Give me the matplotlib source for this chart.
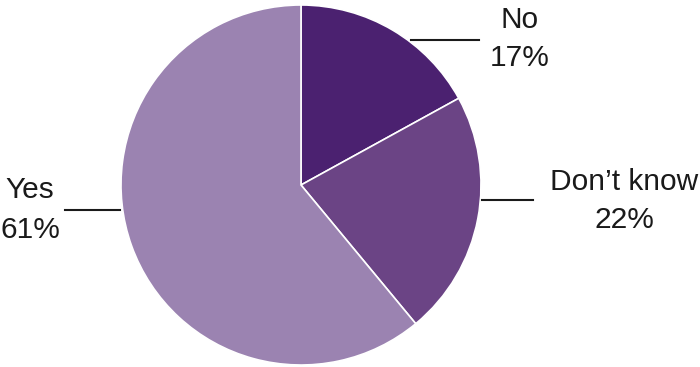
import matplotlib
matplotlib.use('Agg')
import matplotlib.pyplot as plt

# Dados do gráfico
labels = ['No', "Don\u2019t know", 'Yes']
values = [17, 22, 61]
colors = ['#4b2170', '#6b4485', '#9b83b1']

plt.rcParams['font.family'] = ['Liberation Sans', 'DejaVu Sans']

fig = plt.figure(figsize=(7, 3.67), dpi=100)
ax = fig.add_axes([0, 0, 1, 1])

ax.pie(values, colors=colors, startangle=90, counterclock=False,
       center=(301, 182), radius=180, frame=True,
       wedgeprops=dict(edgecolor='white', linewidth=1.2))
ax.set_xlim(0, 700)
ax.set_ylim(0, 367)
ax.set_aspect('equal')
ax.axis('off')

# posições dos rótulos e linhas guia (pixels)
label_pos = [(520, 328), (624, 166), (30, 157)]
lines = [((411, 479), 327), ((482, 533), 167), ((65, 120), 157)]

for lab, v, (x, y) in zip(labels, values, label_pos):
    ax.text(x, y, f'{lab}\n{v}%', ha='center', va='center', fontsize=21.5,
            linespacing=1.5, color='#1a1a1a')

for (x0, x1), y in lines:
    ax.plot([x0, x1], [y, y], color='#1a1a1a', lw=1.5)

plt.savefig('out.png', dpi=100)
plt.close('all')
